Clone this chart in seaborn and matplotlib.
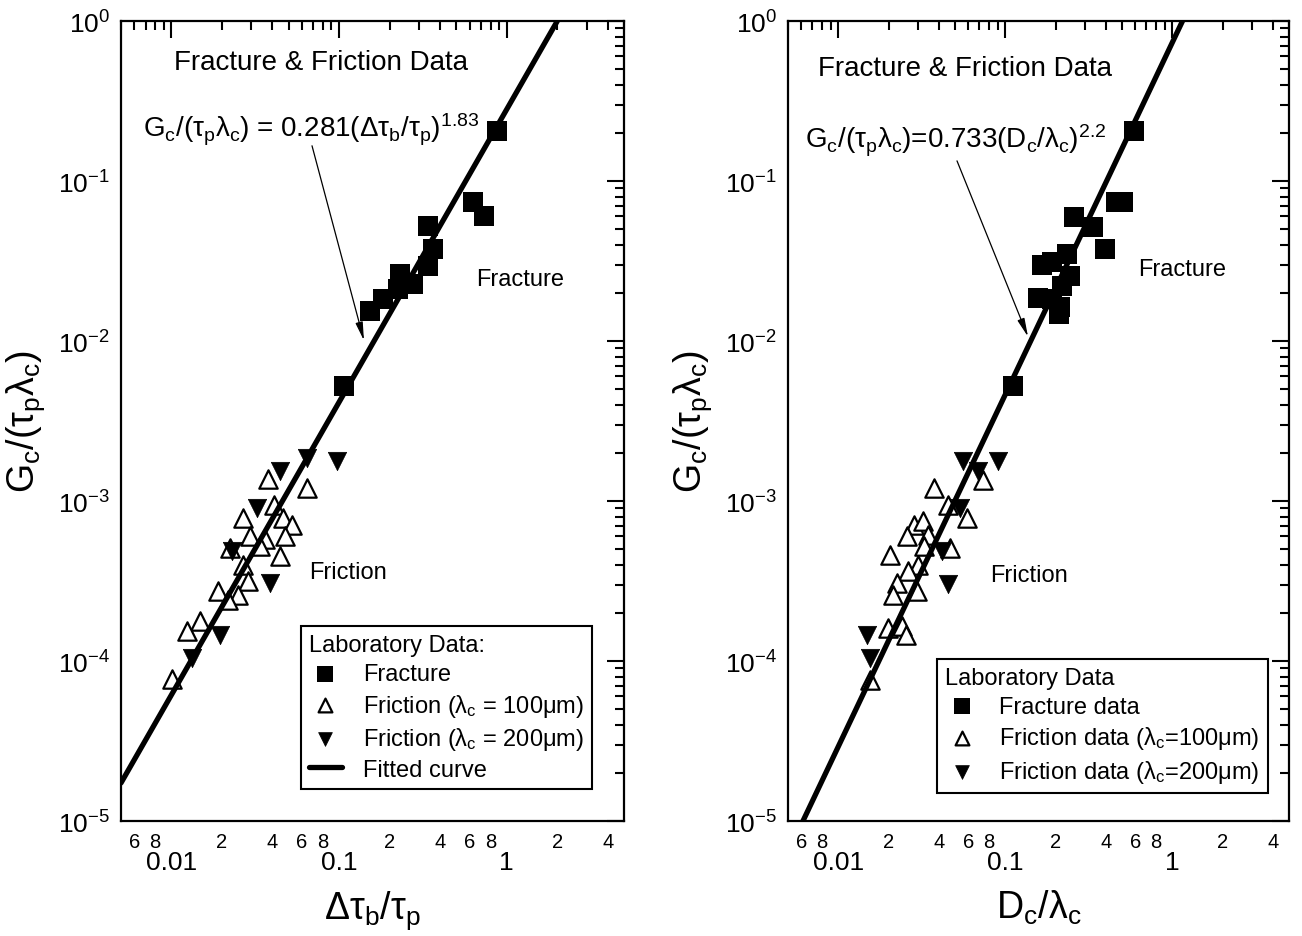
import numpy as np
import pandas as pd
import matplotlib
matplotlib.use("Agg")
import matplotlib.pyplot as plt
import seaborn as sns
from matplotlib.ticker import (FixedLocator, FuncFormatter, LogLocator,
                               NullFormatter, LogFormatterSciNotation)

# ---- Left panel: Gc/(tau_p lambda_c) versus delta tau_b / tau_p ----
frac_dtau = [0.873, 0.628, 0.731, 0.339, 0.362, 0.339, 0.275, 0.224, 0.182,
             0.153, 0.231, 0.107]
frac_dtau_gc = [0.206, 0.0741, 0.0607, 0.0525, 0.0378, 0.0296, 0.0228, 0.0212,
                0.0184, 0.0153, 0.0264, 0.00527]

fric100_dtau = [0.0377, 0.0643, 0.0408, 0.0267, 0.0462, 0.0524, 0.0294, 0.0361,
                0.0475, 0.0337, 0.0223, 0.0444, 0.0267, 0.0286, 0.0189, 0.0249,
                0.0217, 0.0148, 0.0124, 0.0101]
fric100_dtau_gc = [1.38e-3, 1.20e-3, 9.4e-4, 7.8e-4, 7.8e-4, 7.1e-4, 6.0e-4, 5.8e-4,
                   6.0e-4, 5.2e-4, 5.1e-4, 4.5e-4, 3.96e-4, 3.15e-4, 2.73e-4, 2.58e-4,
                   2.40e-4, 1.77e-4, 1.53e-4, 7.7e-5]

fric200_dtau = [0.0444, 0.0643, 0.0971, 0.0324, 0.0230, 0.0386, 0.0194, 0.0132]
fric200_dtau_gc = [1.53e-3, 1.85e-3, 1.77e-3, 9.0e-4, 4.9e-4, 3.06e-4, 1.45e-4, 1.04e-4]

# ---- Right panel: Gc/(tau_p lambda_c) versus Dc / lambda_c ----
frac_dc = [0.590, 0.460, 0.507, 0.258, 0.335, 0.395, 0.234, 0.166, 0.191, 0.244,
           0.219, 0.157, 0.191, 0.213, 0.210, 0.111]
frac_dc_gc = [0.206, 0.0741, 0.0741, 0.0598, 0.0518, 0.0378, 0.0351, 0.0300, 0.0313,
              0.0256, 0.0222, 0.0187, 0.0184, 0.0164, 0.0148, 0.00527]

fric100_dc = [0.0374, 0.0736, 0.0454, 0.0590, 0.0284, 0.0321, 0.0258, 0.0344, 0.0326,
              0.0467, 0.0204, 0.0300, 0.0262, 0.0225, 0.0296, 0.0213, 0.0199, 0.0241,
              0.0255, 0.0155]
fric100_dc_gc = [1.20e-3, 1.35e-3, 9.4e-4, 7.8e-4, 7.05e-4, 7.46e-4, 6.0e-4, 6.1e-4,
                 5.2e-4, 5.06e-4, 4.57e-4, 3.96e-4, 3.64e-4, 3.06e-4, 2.73e-4, 2.58e-4,
                 1.60e-4, 1.65e-4, 1.45e-4, 7.6e-5]

fric200_dc = [0.0558, 0.0904, 0.0687, 0.0536, 0.0418, 0.0454, 0.0149, 0.0155]
fric200_dc_gc = [1.79e-3, 1.79e-3, 1.53e-3, 9.1e-4, 4.9e-4, 3.01e-4, 1.45e-4, 1.04e-4]

# power-law fits: Gc/(tau_p lambda_c) = a * x**b
fit_left = (0.281, 1.83)
fit_right = (0.733, 2.2)

XLIM = (0.005, 5.0)
YLIM = (1e-5, 1.0)

sns.set_style("white")
plt.rcParams["font.family"] = ["Liberation Sans", "DejaVu Sans"]
plt.rcParams["mathtext.fontset"] = "custom"
plt.rcParams["mathtext.rm"] = "Liberation Sans"
plt.rcParams["mathtext.it"] = "Liberation Sans:italic"
plt.rcParams["mathtext.bf"] = "Liberation Sans:bold"
plt.rcParams["mathtext.default"] = "regular"
plt.rcParams["axes.unicode_minus"] = False
for key in ("text.color", "axes.labelcolor", "xtick.color", "ytick.color",
            "axes.edgecolor"):
    plt.rcParams[key] = "black"

fig = plt.figure(figsize=(13.02, 9.37), dpi=100)
axL = fig.add_axes([121 / 1302, 115 / 937, 503 / 1302, 800 / 937])
axR = fig.add_axes([788 / 1302, 115 / 937, 501 / 1302, 800 / 937])

SQ = 215
TRI = 175


def minor_label(v, _):
    m = v / 10 ** np.floor(np.log10(v) + 1e-9)
    d = int(round(m))
    return str(d) if d in (2, 4, 6, 8) else ""


def style_axes(ax):
    ax.set_xscale("log")
    ax.set_yscale("log")
    ax.set_xlim(*XLIM)
    ax.set_ylim(*YLIM)
    ax.xaxis.set_major_locator(FixedLocator([0.01, 0.1, 1]))
    ax.xaxis.set_major_formatter(FuncFormatter(lambda v, _: f"{v:g}"))
    ax.xaxis.set_minor_locator(LogLocator(base=10, subs=np.arange(2, 10), numticks=30))
    ax.xaxis.set_minor_formatter(FuncFormatter(minor_label))
    ax.yaxis.set_major_locator(LogLocator(base=10, numticks=10))
    ax.yaxis.set_major_formatter(LogFormatterSciNotation())
    ax.yaxis.set_minor_locator(LogLocator(base=10, subs=np.arange(2, 10), numticks=30))
    ax.yaxis.set_minor_formatter(NullFormatter())
    ax.tick_params(which="both", direction="in", top=True, right=True,
                   width=1.5, color="black", labelcolor="black")
    ax.tick_params(which="major", length=12)
    ax.tick_params(which="minor", length=6.5)
    ax.tick_params(axis="x", which="major", labelsize=19, pad=21)
    ax.tick_params(axis="x", which="minor", labelsize=14.5, pad=8)
    ax.tick_params(axis="y", which="major", labelsize=19, pad=8)
    for sp in ax.spines.values():
        sp.set_visible(True)
        sp.set_linewidth(1.6)
        sp.set_color("black")
    ax.set_ylabel(r"$G_c/(\tau_p\lambda_c)$", fontsize=27, labelpad=8)


def draw_panel(ax, fx, fy, ax100, ay100, ax200, ay200, fit, labels, show_line_label):
    sns.scatterplot(x=ax100, y=ay100, marker="^", s=TRI, color="white",
                    edgecolor="black", linewidth=1.6, label=labels[1], ax=ax, zorder=3)
    sns.scatterplot(x=ax200, y=ay200, marker="v", s=TRI, color="black",
                    edgecolor="black", linewidth=0.5, label=labels[2], ax=ax, zorder=3)
    xs = np.geomspace(XLIM[0], XLIM[1], 60)
    line_df = pd.DataFrame({"x": xs, "y": fit[0] * xs ** fit[1]})
    sns.lineplot(data=line_df, x="x", y="y", color="black", linewidth=3.8,
                 label=("Fitted curve" if show_line_label else None),
                 legend=show_line_label, ax=ax, zorder=4)
    sns.scatterplot(x=fx, y=fy, marker="s", s=SQ, color="black", edgecolor="black",
                    linewidth=0, label=labels[0], ax=ax, zorder=5)


# left panel
draw_panel(axL, frac_dtau, frac_dtau_gc, fric100_dtau, fric100_dtau_gc,
           fric200_dtau, fric200_dtau_gc, fit_left,
           ["Fracture", r"Friction ($\lambda_c$ = 100μm)",
            r"Friction ($\lambda_c$ = 200μm)"], True)
style_axes(axL)
axL.set_xlabel(r"$\Delta\tau_b/\tau_p$", fontsize=27, labelpad=10)

# right panel
draw_panel(axR, frac_dc, frac_dc_gc, fric100_dc, fric100_dc_gc,
           fric200_dc, fric200_dc_gc, fit_right,
           ["Fracture data", r"Friction data ($\lambda_c$=100μm)",
            r"Friction data ($\lambda_c$=200μm)"], False)
style_axes(axR)
axR.set_xlabel(r"$D_c/\lambda_c$", fontsize=27, labelpad=10)

# annotations
axL.text(0.01035, 0.50, "Fracture & Friction Data", fontsize=20, ha="left", va="baseline")
axL.text(0.00676, 0.191, r"$G_c/(\tau_p\lambda_c)$ = 0.281$(\Delta\tau_b/\tau_p)^{1.83}$",
         fontsize=20, ha="left", va="baseline")
axL.annotate("", xy=(0.1406, 0.01007), xytext=(0.0689, 0.166),
             arrowprops=dict(arrowstyle="-|>,head_width=0.22,head_length=1.1",
                             color="black", lw=0.9, shrinkA=0, shrinkB=0))
axL.text(0.655, 0.0225, "Fracture", fontsize=17, ha="left", va="baseline")
axL.text(0.0661, 3.29e-4, "Friction", fontsize=17, ha="left", va="baseline")

axR.text(0.00757, 0.46, "Fracture & Friction Data", fontsize=20, ha="left", va="baseline")
axR.text(0.00632, 0.163, r"$G_c/(\tau_p\lambda_c)$=0.733$(D_c/\lambda_c)^{2.2}$",
         fontsize=20, ha="left", va="baseline")
axR.annotate("", xy=(0.1368, 0.01064), xytext=(0.0514, 0.1336),
             arrowprops=dict(arrowstyle="-|>,head_width=0.22,head_length=1.1",
                             color="black", lw=0.9, shrinkA=0, shrinkB=0))
axR.text(0.624, 0.0259, "Fracture", fontsize=17, ha="left", va="baseline")
axR.text(0.0811, 3.15e-4, "Friction", fontsize=17, ha="left", va="baseline")


def make_legend(ax, order, title, anchor):
    h, l = ax.get_legend_handles_labels()
    lookup = dict(zip(l, h))
    leg = ax.legend([lookup[k] for k in order], order, title=title,
                    loc="lower right", bbox_to_anchor=anchor, frameon=True,
                    fancybox=False, edgecolor="black", framealpha=1,
                    fontsize=17, title_fontsize=17, alignment="left",
                    markerscale=0.75, handlelength=1.4, handletextpad=0.9,
                    labelspacing=0.28, borderpad=0.35, borderaxespad=0)
    leg.get_frame().set_linewidth(1.5)
    for t in leg.get_texts():
        t.set_color("black")
    leg.get_title().set_color("black")
    return leg


make_legend(axL, ["Fracture", r"Friction ($\lambda_c$ = 100μm)",
                  r"Friction ($\lambda_c$ = 200μm)", "Fitted curve"],
            "Laboratory Data:", (0.937, 0.04))
make_legend(axR, ["Fracture data", r"Friction data ($\lambda_c$=100μm)",
                  r"Friction data ($\lambda_c$=200μm)"],
            "Laboratory Data", (0.958, 0.035))

fig.savefig("out.png", dpi=100, facecolor="white")
